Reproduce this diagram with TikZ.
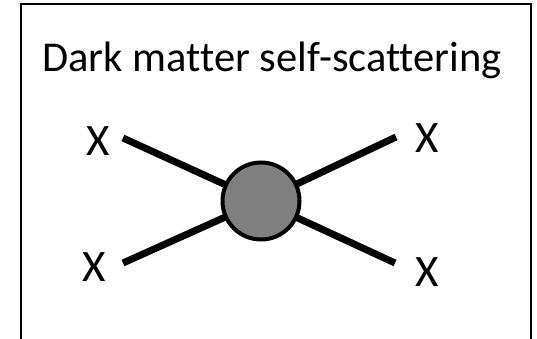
\documentclass[tikz,border=0pt]{standalone}
\usepackage{fontspec}
\setmainfont{Carlito}[Ligatures=NoCommon]
\usetikzlibrary{backgrounds}
\tikzset{
  frameline/.style={line width=2pt, line cap=butt},
  leg/.style={line width=7pt, line cap=butt},
  vertex/.style={circle, draw=black, line width=4pt, fill={rgb,255:red,128;green,128;blue,128}, minimum size=77pt, inner sep=0pt},
  particle/.style={font=\fontsize{45}{50}\selectfont, anchor=base, inner sep=0pt},
  heading/.style={font=\fontsize{42.5}{48}\selectfont, anchor=base, inner sep=0pt}
}
\begin{document}
\begin{tikzpicture}[x=1pt,y=-1pt]
  \useasboundingbox (0,0) rectangle (537,339);
  % open frame running off the bottom
  \draw[frameline] (20.5,339) -- (20.5,4.5) -- (530.5,4.5) -- (530.5,339);
  % heading
  \node[heading] (title) at (272,72) {Dark matter self-scattering};
  % interaction blob
  \node[vertex] (blob) at (261,201) {};
  % external particles
  \node[particle] (xtl) at (98,155) {X};
  \node[particle] (xbl) at (94,281.5) {X};
  \node[particle] (xtr) at (427,153) {X};
  \node[particle] (xbr) at (427,286.5) {X};
  % free ends of the legs
  \coordinate (etl) at (123,138);
  \coordinate (ebl) at (123,263);
  \coordinate (etr) at (396,137);
  \coordinate (ebr) at (395,263);
  \begin{scope}[on background layer]
    \draw[leg] (etl) -- (blob.center);
    \draw[leg] (ebl) -- (blob.center);
    \draw[leg] (etr) -- (blob.center);
    \draw[leg] (ebr) -- (blob.center);
  \end{scope}
\end{tikzpicture}
\end{document}
